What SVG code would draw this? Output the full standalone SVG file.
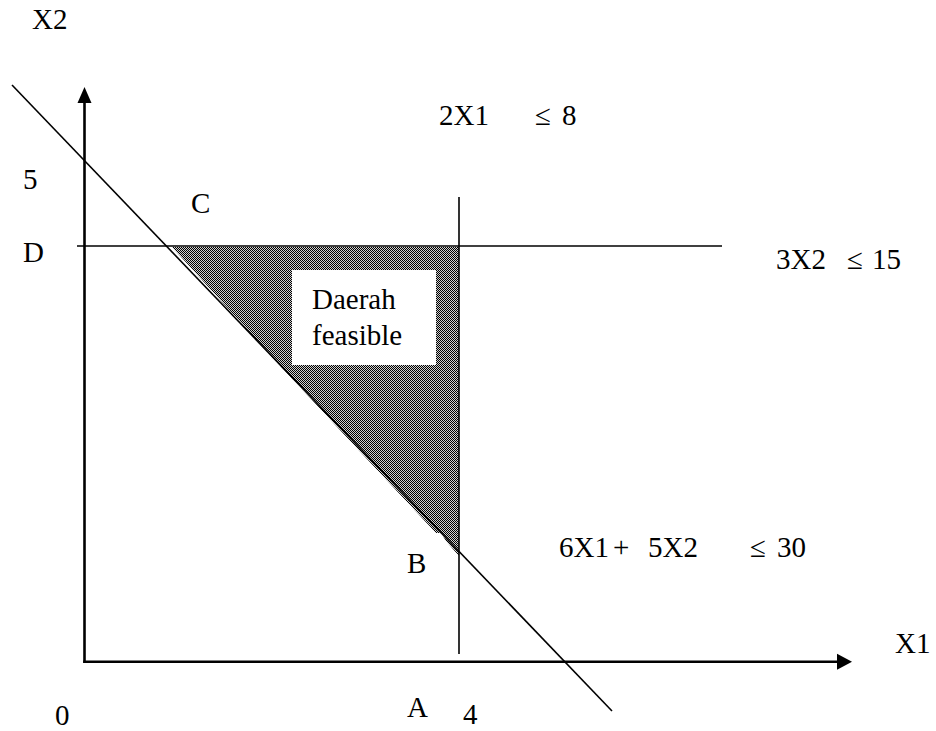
<svg xmlns="http://www.w3.org/2000/svg" width="936" height="731" viewBox="0 0 936 731">
  <style>
    .axis { stroke: #000; stroke-width: 2.6; fill: none; }
    .line { stroke: #000; stroke-width: 1.6; fill: none; }
  </style>
  <defs>
    <pattern id="checker" width="2" height="2" patternUnits="userSpaceOnUse">
      <rect width="2" height="2" fill="#d0d0d0"/>
      <rect x="0" y="0" width="1" height="1" fill="#000"/>
      <rect x="1" y="1" width="1" height="1" fill="#000"/>
    </pattern>
  </defs>
  <rect width="936" height="731" fill="#fff"/>

  <g id="feasible-region" font-family="Liberation Serif" font-size="29" fill="#000">
    <polygon points="172,247 459,247 459,556 446,541 441,533 436,533 285,371" fill="url(#checker)"/>
    <rect x="292" y="270" width="144" height="95" fill="#fff"/>
    <text x="312" y="309">Daerah</text>
    <text x="312" y="345">feasible</text>
  </g>

  <g id="connectors">
    <line class="axis" x1="84.5" y1="663" x2="84.5" y2="102"/>
    <polygon points="84.5,87 77.5,103 91.5,103" fill="#000"/>
    <line class="axis" x1="83.2" y1="661.7" x2="838" y2="661.7"/>
    <polygon points="852,661.7 837,653.7 837,669.7" fill="#000"/>
    <line class="line" x1="12" y1="85" x2="612" y2="711"/>
    <line class="line" x1="77" y1="246" x2="722" y2="246"/>
    <line class="line" x1="459" y1="197" x2="459" y2="654"/>
  </g>

  <g id="labels" font-family="Liberation Serif" font-size="29" fill="#000">
    <text x="32" y="29">X2</text>
    <text x="895" y="653">X1</text>
    <text x="23" y="189">5</text>
    <text x="23" y="262">D</text>
    <text x="191" y="213">C</text>
    <text x="407" y="573">B</text>
    <text x="407" y="717">A</text>
    <text x="463" y="724">4</text>
    <text x="55" y="725">0</text>
    <text x="439" y="125">2X1</text>
    <text x="535" y="125">≤</text>
    <text x="562" y="125">8</text>
    <text x="776" y="269">3X2</text>
    <text x="847" y="269">≤</text>
    <text x="872" y="269">15</text>
    <text x="559" y="557">6X1</text>
    <text x="613" y="557">+</text>
    <text x="648" y="557">5X2</text>
    <text x="750" y="557">≤</text>
    <text x="777" y="557">30</text>
  </g>
</svg>
